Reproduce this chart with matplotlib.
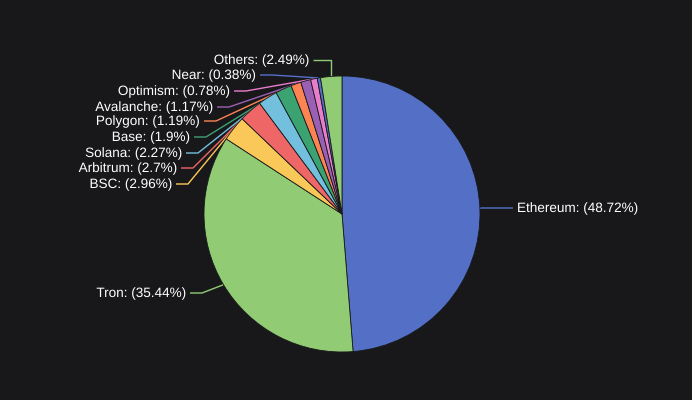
import numpy as np
import matplotlib
matplotlib.use("Agg")
import matplotlib.pyplot as plt
import matplotlib.patheffects as pe

labels = ["Ethereum", "Tron", "BSC", "Arbitrum", "Solana", "Base", "Polygon",
          "Avalanche", "Optimism", "Near", "Others"]
values = [48.72, 35.44, 2.96, 2.7, 2.27, 1.9, 1.19, 1.17, 0.78, 0.38, 2.49]
colors = ["#5470c6", "#91cc75", "#fac858", "#ee6666", "#73c0de", "#3ba272",
          "#fc8452", "#9a60b4", "#ea7ccc", "#5470c6", "#91cc75"]

W, H = 692, 400
fig = plt.figure(figsize=(W/100, H/100), dpi=100)
fig.patch.set_facecolor("#18181b")
ax = fig.add_axes([0, 0, 1, 1])

cx, cy, R = 342, 400-214, 138
ax.pie(values, colors=colors, startangle=90, counterclock=False,
       center=(cx, cy), radius=R, frame=True,
       wedgeprops=dict(edgecolor="#18181b", linewidth=0.6, zorder=2))
ax.set_xlim(0, W); ax.set_ylim(0, H); ax.axis("off")

pos = {"Ethereum": (517, 208, "left"), "Tron": (186, 293, "right"),
       "BSC": (172, 184, "right"), "Arbitrum": (177, 168, "right"),
       "Solana": (182, 153, "right"), "Base": (190, 137, "right"),
       "Polygon": (200, 121, "right"), "Avalanche": (213, 107, "right"),
       "Optimism": (230, 91, "right"), "Near": (256, 75, "right"),
       "Others": (309, 60, "right")}

total = sum(values)
cum = 0
for lab, v, c in zip(labels, values, colors):
    mid = 90 - (cum + v/2)/total*360
    cum += v
    a = np.deg2rad(mid)
    ex, ey = cx + R*np.cos(a), cy + R*np.sin(a)
    tx, ty, ha = pos[lab]
    ty = H - ty
    if ha == "left":
        x1 = tx - 4; x2 = tx - 36
    else:
        x1 = tx + 4; x2 = tx + 16
    if lab == "Others":
        x2 = ex
    ax.plot([ex, x2, x1], [ey, ty, ty], color=c, lw=1, solid_capstyle="butt", zorder=1)
    ax.text(tx, ty, f"{lab}: ({v}%)", ha=ha, va="center", color="white",
            fontsize=9.75, family="Liberation Sans", zorder=5,
            path_effects=[pe.withStroke(linewidth=1.5, foreground="#18181b")])

fig.savefig("out.png", dpi=100, facecolor=fig.get_facecolor())
